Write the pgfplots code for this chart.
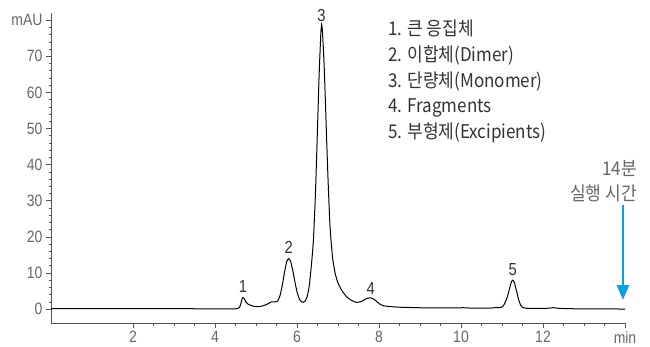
\documentclass[border=0pt]{standalone}
\usepackage{pgfplots}
\pgfplotsset{compat=1.18}
\usepackage{fontspec}
\usetikzlibrary{arrows.meta}
\setmainfont{Liberation Sans}[FakeStretch=0.85]
\newfontfamily\kr{Noto Sans CJK KR}[FakeStretch=0.9]
\definecolor{axgray}{HTML}{555555}
\definecolor{labgray}{HTML}{666666}
\definecolor{txt}{HTML}{333333}
\definecolor{arrowblue}{HTML}{0AA0E0}
\begin{document}
\begin{tikzpicture}
\begin{axis}[
  scale only axis, width=574bp, height=310bp,
  xmin=0, xmax=14, ymin=-3.87, ymax=82,
  axis x line=bottom, axis y line=left,
  axis line style={-, draw=axgray, line width=0.8bp},
  tick align=outside,
  xtick={2,4,6,8,10,12,14}, xticklabels={2,4,6,8,10,12,min},
  ytick={0,10,20,30,40,50,60,70,80}, yticklabels={0,10,20,30,40,50,60,70,mAU},
  minor x tick num=3, minor y tick num=4,
  major tick length=5bp, minor tick length=2.5bp,
  tick style={draw=axgray, line width=0.6bp},
  /pgf/number format/assume math mode=true,
  tick label style={font=\fontsize{16.5}{19}\selectfont, text=labgray},
  xticklabel style={yshift=0bp},
  clip=false,
]
\addplot[black, line width=1bp, smooth, tension=0.3] coordinates {
(0,0.1) (1,0.1) (2,0.1) (3,0.1) (4,0.05) (4.4,0.05) (4.55,0.1) (4.6,0.5) (4.63,1.5) (4.66,2.8) (4.68,3.2) (4.71,2.9) (4.75,2.0) (4.8,1.4) (4.9,0.9) (5.0,0.65) (5.1,0.7) (5.2,1.0) (5.3,1.5) (5.38,2.0) (5.45,2.0) (5.52,2.1) (5.58,3.5) (5.64,6.5) (5.70,10.5) (5.75,13.2) (5.80,14.0) (5.85,13.0) (5.90,10.5) (5.95,7.5) (6.00,4.8) (6.05,3.0) (6.10,2.1) (6.15,1.85) (6.20,2.2) (6.25,3.5) (6.30,6.5) (6.35,12) (6.40,19) (6.45,32) (6.50,50) (6.54,65) (6.58,76) (6.60,78.9) (6.62,77) (6.66,68) (6.70,55) (6.72,48) (6.76,35) (6.80,24) (6.83,19) (6.87,14) (6.93,9.9) (7.0,7.2) (7.1,5.0) (7.21,3.4) (7.3,2.6) (7.4,2.0) (7.46,1.85) (7.55,2.0) (7.65,2.6) (7.72,3.0) (7.80,3.1) (7.88,2.7) (7.95,2.0) (8.03,1.3) (8.11,0.9) (8.3,0.65) (8.51,0.5) (9.0,0.35) (9.5,0.3) (10.0,0.3) (10.05,0.4) (10.12,0.3) (10.5,0.25) (10.8,0.3) (10.85,0.45) (10.9,0.35) (10.99,0.5) (11.05,1.2) (11.12,3.0) (11.18,5.5) (11.23,7.6) (11.26,8.0) (11.30,7.4) (11.35,5.2) (11.40,2.8) (11.45,1.2) (11.5,0.5) (11.6,0.2) (12.0,0.15) (12.2,0.3) (12.25,0.4) (12.32,0.25) (12.6,0.1) (13,0.05) (14,0.0)
};
% peak labels
\begin{scope}[every node/.style={font=\fontsize{17.5}{20}\selectfont, text=txt}]
\node at (axis cs:4.68,6.2) {1};
\node at (axis cs:5.80,17.2) {2};
\node at (axis cs:6.60,81.4) {3};
\node at (axis cs:7.80,5.7) {4};
\node at (axis cs:11.26,11.0) {5};
\end{scope}
% legend text
\begin{scope}[every node/.style={anchor=base west, inner sep=0pt, font=\kr\fontsize{19}{22}\selectfont, text=txt}]
\node at (axis cs:8.22,75.7) {1. 큰 응집체};
\node at (axis cs:8.22,68.6) {2. 이합체(Dimer)};
\node at (axis cs:8.22,61.4) {3. 단량체(Monomer)};
\node at (axis cs:8.22,54.3) {4. Fragments};
\node at (axis cs:8.22,47.2) {5. 부형제(Excipients)};
\end{scope}
% run time annotation
\begin{scope}[every node/.style={anchor=base east, inner sep=0pt, font=\kr\fontsize{19}{22}\selectfont, text=labgray}]
\node at (axis cs:14.29,37.1) {14분};
\node at (axis cs:14.29,30.2) {실행 시간};
\end{scope}
\draw[-{Triangle[width=12bp,length=15bp]}, line width=2.5bp, arrowblue] (axis cs:13.95,28.7) -- (axis cs:13.95,2.5);
\end{axis}
\pgfresetboundingbox
\path (-51bp,-24bp) rectangle (599bp,323bp);
\end{tikzpicture}
\end{document}
